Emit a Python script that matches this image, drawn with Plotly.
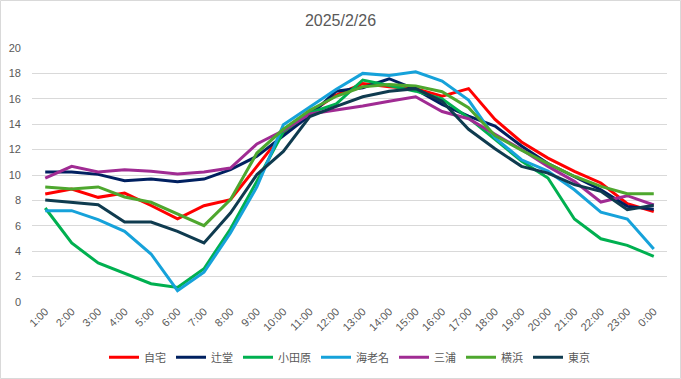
import plotly.graph_objects as go

hours = ["1:00", "2:00", "3:00", "4:00", "5:00", "6:00", "7:00", "8:00", "9:00", "10:00",
         "11:00", "12:00", "13:00", "14:00", "15:00", "16:00", "17:00", "18:00", "19:00",
         "20:00", "21:00", "22:00", "23:00", "0:00"]

jitaku = [8.5, 8.9, 8.24, 8.58, 7.6, 6.55, 7.58, 8.06, 10.68, 13.3, 14.9, 16.3, 17.2, 16.95,
          16.8, 16.2, 16.8, 14.38, 12.6, 11.33, 10.28, 9.37, 7.74, 7.12]
tsujido = [10.24, 10.24, 10.05, 9.55, 9.69, 9.47, 9.68, 10.42, 11.47, 13.1, 14.7, 16.6, 16.87,
           17.58, 16.74, 15.56, 14.64, 13.85, 12.28, 10.9, 9.9, 8.84, 7.53, 7.3]
odawara = [7.4, 4.65, 3.07, 2.23, 1.44, 1.15, 2.62, 5.75, 9.5, 13.4, 14.9, 15.6, 17.48, 17.05,
           16.6, 16.0, 14.5, 12.8, 11.1, 9.76, 6.53, 4.98, 4.46, 3.6]
ebina = [7.19, 7.19, 6.48, 5.56, 3.78, 0.89, 2.34, 5.43, 9.06, 13.96, 15.35, 16.75, 18.0,
         17.84, 18.13, 17.4, 15.9, 12.93, 11.2, 10.3, 8.84, 7.08, 6.53, 4.17]
miura = [9.76, 10.68, 10.24, 10.42, 10.29, 10.08, 10.24, 10.55, 12.44, 13.5, 14.8, 15.1,
         15.43, 15.8, 16.16, 15.0, 14.43, 13.2, 12.0, 10.68, 9.5, 7.87, 8.37, 7.64]
yokohama = [9.06, 8.9, 9.06, 8.27, 7.85, 6.93, 6.01, 8.06, 11.73, 13.6, 15.1, 16.2, 16.95,
            17.13, 17.0, 16.56, 15.3, 13.1, 11.96, 10.9, 9.9, 9.1, 8.52, 8.52]
tokyo = [8.03, 7.82, 7.66, 6.3, 6.3, 5.56, 4.65, 7.0, 10.03, 11.86, 14.6, 15.4, 16.16, 16.6,
         16.8, 15.8, 13.6, 12.07, 10.68, 10.15, 9.24, 8.71, 7.27, 7.62]

series_names = ["自宅", "辻堂", "小田原", "海老名", "三浦", "横浜", "東京"]
series_values = [jitaku, tsujido, odawara, ebina, miura, yokohama, tokyo]
series_colors = ["#FF0000", "#002060", "#00B050", "#16A2DA", "#A02B93", "#4EA72E", "#0F3B4F"]

y_ticks = [0, 2, 4, 6, 8, 10, 12, 14, 16, 18, 20]

fig = go.Figure()
for name, vals, col in zip(series_names, series_values, series_colors):
    fig.add_trace(go.Scatter(x=hours, y=vals, name=name, mode="lines",
                             line=dict(color=col, width=3)))

W, H = 681, 379
L, R, T, B = 32, 14, 48, 77
pw, ph = W - L - R, H - T - B
gray = "#595959"

fig.update_layout(
    width=W, height=H,
    margin=dict(l=L, r=R, t=T, b=B, autoexpand=False),
    paper_bgcolor="white", plot_bgcolor="white",
    font=dict(family="Liberation Sans, Noto Sans CJK JP", color=gray, size=11),
    title=dict(text="2025/2/26", x=0.5, xanchor="center", y=0.947, yanchor="middle",
               yref="container", automargin=False,
               font=dict(size=16, color=gray, family="Liberation Sans")),
    showlegend=True,
    legend=dict(orientation="h", x=0.5, xanchor="center", y=-0.218, yanchor="middle",
                font=dict(family="Noto Sans CJK JP", size=11, color=gray),
                itemwidth=30, tracegroupgap=0),
    xaxis=dict(type="category", range=[-0.5, 23.5], showgrid=False, showline=False,
               zeroline=False, tickangle=-45, ticks="", automargin=False,
               tickfont=dict(size=11, color=gray)),
    yaxis=dict(range=[0, 20], tickvals=y_ticks, showgrid=True, gridcolor="#D9D9D9",
               gridwidth=1, zeroline=False, showline=False, ticks="", automargin=False,
               ticklabelstandoff=10, tickfont=dict(size=11, color=gray)),
    shapes=[dict(type="rect", xref="paper", yref="paper",
                 x0=(0.5 - L) / pw, x1=(W - 0.5 - L) / pw,
                 y0=(H - B - (H - 0.5)) / ph, y1=(H - B - 0.5) / ph,
                 line=dict(color="#D9D9D9", width=1), layer="below")],
)

fig.write_html("out.html", config={"displayModeBar": False},
               post_script="document.body.style.margin='0';document.body.style.overflow='hidden';")
